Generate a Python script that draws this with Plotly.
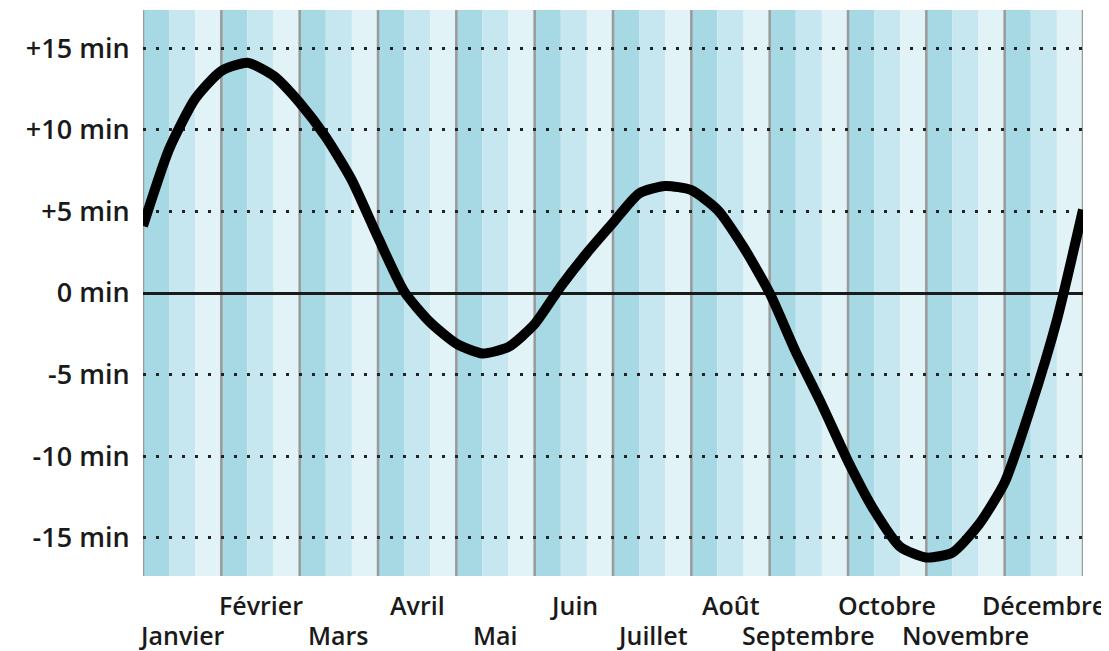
import plotly.graph_objects as go

# Month names (French) - even index on lower row, odd on upper row
months = ["Janvier", "Février", "Mars", "Avril", "Mai", "Juin",
          "Juillet", "Août", "Septembre", "Octobre", "Novembre", "Décembre"]

# Curve sample positions (in months from 1 Jan) and values (minutes)
curve_x = [0.0, 0.333, 0.667, 1.0, 1.333, 1.667, 2.0, 2.333, 2.667,
           3.0, 3.333, 3.667, 4.0, 4.333, 4.667, 5.0, 5.333, 5.667,
           6.0, 6.333, 6.667, 7.0, 7.333, 7.667, 8.0, 8.333, 8.667,
           9.0, 9.333, 9.667, 10.0, 10.333, 10.667, 11.0, 11.333, 11.667, 12.0]
curve_y = [4.1, 8.8, 11.9, 13.6, 14.1, 13.3, 11.65, 9.55, 6.9,
           3.4, 0.1, -1.8, -3.1, -3.7, -3.3, -1.9, 0.4, 2.45,
           4.3, 6.1, 6.55, 6.3, 5.1, 2.8, 0.0, -3.6, -6.85,
           -10.3, -13.3, -15.55, -16.2, -15.9, -14.2, -11.6, -7.0, -1.65, 5.1]

# Y ticks
ytick_vals = [15, 10, 5, 0, -5, -10, -15]
ytick_text = ["+15 min", "+10 min", "+5 min", "0 min", "-5 min", "-10 min", "-15 min"]

band_colors = ["#a7d9e5", "#c6e7f0", "#e2f3f8"]
YMIN, YMAX = -17.33, 17.33
FONT = "Open Sans"

fig = go.Figure()
fig.add_trace(go.Scatter(x=curve_x, y=curve_y, mode="lines",
                         line=dict(color="#000000", width=10, shape="spline", smoothing=0.6),
                         hoverinfo="skip", showlegend=False))

shapes = []
for m in range(len(months)):
    for j in range(3):
        shapes.append(dict(type="rect", xref="x", yref="y",
                           x0=m + j / 3, x1=m + (j + 1) / 3, y0=YMIN, y1=YMAX,
                           fillcolor=band_colors[j], line=dict(width=0), layer="below"))
for m in range(len(months) + 1):
    shapes.append(dict(type="line", xref="x", yref="y", x0=m, x1=m, y0=YMIN, y1=YMAX,
                       line=dict(color="#9a9a9a", width=2.5), layer="below"))

annotations = []
for i, name in enumerate(months):
    annotations.append(dict(x=i + 0.5, xref="x", yref="paper",
                            y=(-59 / 566) if i % 2 == 0 else (-29 / 566),
                            text=name, showarrow=False, xanchor="center", yanchor="middle",
                            font=dict(family=FONT, size=25, color="#1a1a1a", weight=600)))

# page body has an 8px margin, so the figure is 8px smaller and margins shifted
fig.update_layout(
    width=1101, height=643,
    margin=dict(l=135, r=26, t=2, b=75),
    paper_bgcolor="white", plot_bgcolor="white",
    shapes=shapes, annotations=annotations,
    xaxis=dict(range=[0, 12], showgrid=False, zeroline=False, showticklabels=False,
               showline=False, ticks=""),
    yaxis=dict(range=[YMIN, YMAX], tickvals=ytick_vals, ticktext=ytick_text,
               showgrid=True, gridcolor="#222222", gridwidth=2.5, griddash="3px,10px",
               zeroline=True, zerolinecolor="#1a1a1a", zerolinewidth=2.5,
               ticks="outside", ticklen=7, tickcolor="rgba(0,0,0,0)",
               tickfont=dict(family=FONT, size=27, color="#1a1a1a", weight=600),
               showline=False),
)

fig.write_html("out.html")
